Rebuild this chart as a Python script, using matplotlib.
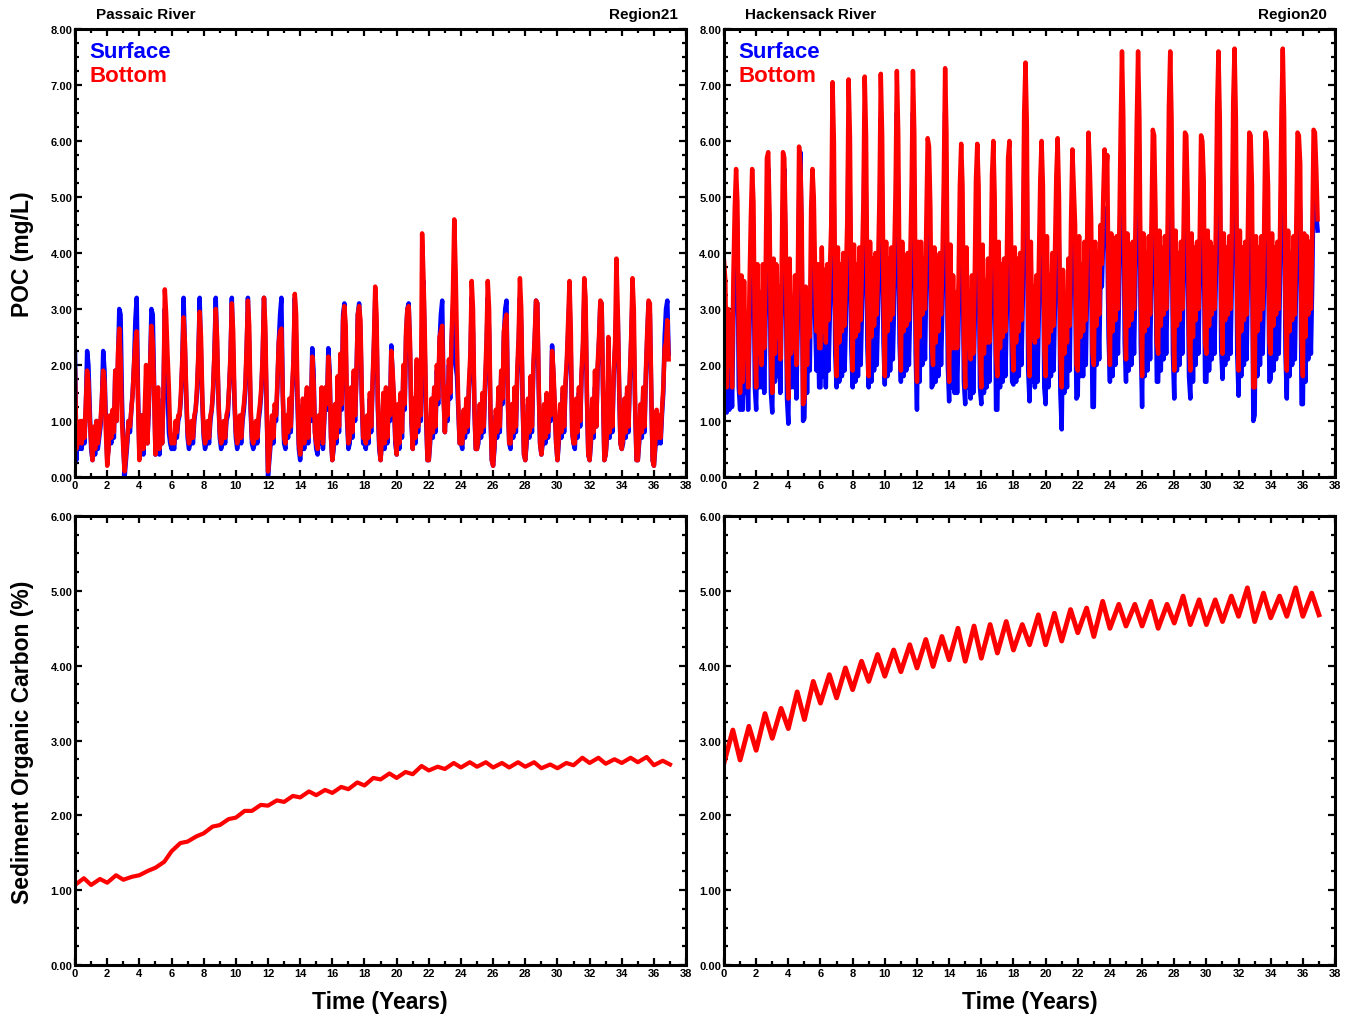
import numpy as np
import matplotlib
matplotlib.use("Agg")
import matplotlib.pyplot as plt
from matplotlib.ticker import MultipleLocator, FormatStrFormatter

plt.rcParams['font.family'] = ['Liberation Sans', 'DejaVu Sans']
plt.rcParams['font.weight'] = 'bold'

# --- monthly POC (mg/L), one row per model year (12 values) ---
passaic_surface = [
    [2.2, 0.3, 0.8, 0.5, 0.7, 0.5, 1.0, 0.6, 1.2, 2.25, 2.0, 1.2],
    [0.5, 0.3, 0.7, 0.4, 1.0, 0.5, 0.7, 0.9, 1.3, 2.25, 1.9, 1.0],
    [0.3, 0.5, 1.0, 0.6, 1.1, 0.7, 1.9, 1.0, 2.0, 3.0, 2.9, 1.4],
    [0.6, 0.0, 0.3, 0.6, 1.0, 0.8, 1.2, 1.5, 2.0, 2.8, 3.2, 1.5],
    [0.4, 0.5, 1.1, 0.4, 1.0, 1.5, 0.6, 1.2, 2.0, 3.0, 2.9, 1.6],
    [0.4, 0.5, 1.4, 0.4, 0.9, 0.6, 1.5, 3.0, 2.2, 1.6, 0.8, 0.6],
    [0.5, 0.6, 0.5, 0.9, 0.7, 1.0, 1.1, 1.4, 2.0, 3.2, 2.3, 1.4],
    [0.7, 0.5, 0.6, 0.9, 0.6, 1.0, 1.2, 1.5, 2.1, 3.2, 2.2, 1.3],
    [0.7, 0.5, 0.6, 0.9, 0.6, 1.0, 1.2, 1.5, 2.2, 3.2, 2.3, 1.4],
    [0.7, 0.5, 0.6, 0.9, 0.6, 1.0, 1.1, 1.6, 2.1, 3.2, 2.2, 1.3],
    [0.7, 0.5, 0.7, 1.0, 0.6, 1.0, 1.2, 1.5, 2.2, 3.2, 2.3, 1.2],
    [0.6, 0.5, 0.6, 0.9, 0.6, 1.0, 1.2, 1.5, 2.1, 3.2, 2.4, 1.2],
    [0.0, 0.3, 0.6, 1.0, 0.6, 1.2, 1.0, 1.6, 2.4, 2.9, 3.2, 1.5],
    [0.6, 0.5, 1.0, 0.7, 1.3, 0.8, 1.5, 2.0, 3.2, 2.4, 1.3, 0.5],
    [0.3, 0.6, 1.3, 0.5, 1.0, 1.5, 0.6, 1.4, 1.0, 2.3, 1.9, 0.8],
    [0.5, 0.4, 1.0, 0.6, 1.5, 0.5, 1.0, 1.6, 1.2, 2.3, 1.9, 0.7],
    [0.3, 0.5, 1.2, 0.6, 1.7, 0.8, 2.0, 1.2, 2.9, 3.1, 2.3, 1.0],
    [0.5, 0.6, 1.5, 0.7, 1.8, 1.0, 1.8, 2.9, 3.1, 2.6, 1.4, 0.6],
    [0.6, 0.5, 1.0, 0.6, 1.4, 0.8, 1.6, 2.3, 3.2, 2.6, 1.2, 0.5],
    [0.3, 0.6, 1.4, 0.5, 1.5, 0.6, 1.2, 1.0, 2.35, 1.8, 1.3, 0.6],
    [0.4, 1.2, 0.5, 1.4, 0.7, 1.9, 1.2, 2.5, 3.0, 3.1, 2.2, 1.0],
    [0.5, 1.3, 0.6, 2.0, 0.8, 1.5, 1.0, 2.5, 3.5, 2.2, 1.0, 0.3],
    [0.3, 0.6, 1.3, 0.7, 1.5, 0.8, 1.9, 1.3, 2.4, 2.9, 3.15, 1.5],
    [0.8, 1.5, 1.0, 2.0, 1.4, 2.4, 3.0, 3.4, 2.0, 1.8, 1.2, 0.6],
    [0.6, 0.5, 1.1, 0.7, 1.3, 0.8, 1.6, 2.0, 3.2, 2.6, 1.2, 0.5],
    [0.5, 0.6, 1.2, 0.7, 1.4, 0.8, 1.6, 2.2, 3.2, 2.6, 1.1, 0.3],
    [0.2, 0.5, 1.1, 0.7, 1.5, 0.8, 1.8, 1.3, 2.5, 3.0, 3.15, 1.3],
    [0.6, 0.5, 1.2, 0.7, 1.5, 0.8, 1.8, 2.3, 3.2, 2.7, 1.3, 0.4],
    [0.3, 0.6, 1.3, 0.7, 1.5, 0.8, 1.9, 2.4, 3.15, 3.1, 1.6, 0.6],
    [0.4, 0.6, 1.2, 0.6, 1.4, 0.7, 1.3, 1.0, 2.35, 1.8, 1.2, 0.6],
    [0.3, 0.6, 1.2, 0.7, 1.5, 0.8, 1.6, 2.0, 2.6, 3.25, 2.2, 0.8],
    [0.6, 0.5, 1.3, 0.7, 1.5, 0.9, 1.8, 2.2, 3.2, 2.9, 1.4, 0.4],
    [0.3, 0.6, 1.3, 0.7, 1.6, 0.9, 1.9, 2.4, 3.1, 3.1, 1.5, 0.3],
    [0.4, 0.7, 1.4, 0.7, 1.6, 0.8, 1.8, 2.3, 3.0, 2.9, 1.6, 0.6],
    [0.5, 0.6, 1.3, 0.7, 1.5, 0.8, 1.7, 2.4, 3.2, 2.4, 1.2, 0.3],
    [0.3, 0.6, 1.2, 0.7, 1.5, 0.8, 1.8, 2.5, 3.1, 2.9, 1.5, 0.3],
    [0.2, 0.5, 1.1, 0.6, 1.0, 0.6, 1.1, 1.5, 2.5, 3.0, 3.15, 2.2],
]

passaic_bottom = [
    [1.9, 0.5, 0.9, 0.6, 1.0, 0.6, 1.0, 0.7, 1.3, 1.9, 1.7, 1.0],
    [0.6, 0.3, 0.9, 0.5, 1.0, 0.6, 0.8, 1.0, 1.4, 1.9, 1.7, 0.8],
    [0.2, 0.5, 1.1, 0.7, 1.2, 0.8, 1.9, 1.0, 2.2, 2.65, 2.1, 1.0],
    [0.5, 0.1, 0.4, 0.7, 1.0, 0.9, 1.2, 1.5, 2.0, 2.4, 2.6, 1.3],
    [0.3, 0.6, 1.1, 0.5, 1.2, 2.0, 0.6, 1.3, 2.0, 2.7, 2.4, 1.5],
    [0.4, 0.6, 1.6, 0.5, 1.0, 0.6, 1.5, 3.35, 2.9, 2.2, 1.6, 0.8],
    [0.6, 0.7, 0.6, 1.0, 0.8, 1.1, 1.1, 1.5, 2.1, 2.85, 2.4, 1.5],
    [0.8, 0.6, 0.7, 1.0, 0.7, 1.1, 1.2, 1.6, 2.2, 2.95, 2.5, 1.4],
    [0.8, 0.6, 0.7, 1.0, 0.7, 1.1, 1.2, 1.6, 2.2, 3.0, 2.5, 1.4],
    [0.8, 0.6, 0.7, 1.0, 0.7, 1.1, 1.2, 1.6, 2.2, 3.1, 2.6, 1.4],
    [0.8, 0.6, 0.7, 1.1, 0.7, 1.1, 1.3, 1.6, 2.3, 3.15, 2.7, 1.3],
    [0.7, 0.6, 0.7, 1.0, 0.7, 1.1, 1.3, 1.6, 2.2, 3.2, 2.7, 1.3],
    [0.1, 0.4, 0.7, 1.1, 0.7, 1.3, 1.1, 1.7, 2.4, 2.6, 2.65, 1.5],
    [0.7, 0.6, 1.1, 0.8, 1.4, 0.9, 1.6, 2.1, 3.27, 2.9, 1.5, 0.6],
    [0.4, 0.7, 1.4, 0.6, 1.1, 1.6, 0.7, 1.5, 1.1, 2.15, 1.7, 0.8],
    [0.6, 0.5, 1.1, 0.7, 1.6, 0.6, 1.1, 1.6, 1.3, 2.15, 1.8, 0.7],
    [0.3, 0.6, 1.3, 0.7, 1.8, 0.9, 2.2, 1.3, 2.8, 3.05, 2.7, 1.1],
    [0.6, 0.7, 1.6, 0.8, 1.9, 1.1, 1.8, 2.9, 3.05, 2.8, 1.5, 0.7],
    [0.7, 0.6, 1.1, 0.7, 1.5, 0.9, 1.7, 2.4, 3.4, 2.9, 1.3, 0.6],
    [0.3, 0.7, 1.5, 0.6, 1.6, 0.7, 1.3, 1.1, 2.25, 1.9, 1.4, 0.7],
    [0.4, 1.3, 0.6, 1.5, 0.8, 2.0, 1.3, 2.6, 3.0, 3.05, 2.4, 1.1],
    [0.5, 1.4, 0.7, 2.1, 0.9, 1.6, 1.1, 4.35, 3.6, 2.6, 1.2, 0.3],
    [0.3, 0.7, 1.4, 0.8, 1.6, 0.9, 2.0, 1.4, 2.5, 2.6, 2.7, 1.4],
    [0.8, 1.6, 1.1, 2.1, 1.5, 2.5, 3.3, 4.6, 3.7, 2.4, 1.3, 0.6],
    [0.6, 0.6, 1.2, 0.8, 1.4, 0.9, 1.7, 2.2, 3.5, 3.0, 1.3, 0.5],
    [0.5, 0.7, 1.3, 0.8, 1.5, 0.9, 1.7, 2.4, 3.5, 3.0, 1.2, 0.3],
    [0.2, 0.6, 1.2, 0.8, 1.6, 0.9, 1.9, 1.4, 2.6, 2.8, 2.9, 1.4],
    [0.6, 0.6, 1.3, 0.8, 1.6, 0.9, 1.9, 2.5, 3.55, 3.0, 1.4, 0.4],
    [0.3, 0.7, 1.4, 0.8, 1.8, 0.9, 2.0, 2.5, 3.15, 3.1, 1.7, 0.6],
    [0.4, 0.7, 1.3, 0.7, 1.5, 0.8, 1.4, 1.1, 2.25, 1.9, 1.3, 0.6],
    [0.3, 0.7, 1.3, 0.8, 1.6, 0.9, 1.7, 2.1, 2.8, 3.5, 2.6, 0.8],
    [0.6, 0.6, 1.4, 0.8, 1.6, 1.0, 1.9, 2.4, 3.55, 3.2, 1.5, 0.4],
    [0.3, 0.7, 1.4, 0.8, 1.9, 0.9, 2.0, 2.5, 3.15, 3.1, 1.6, 0.3],
    [0.4, 0.8, 2.5, 0.8, 1.7, 0.9, 1.9, 2.4, 3.9, 3.0, 1.7, 0.6],
    [0.5, 0.7, 1.4, 0.8, 1.6, 0.9, 1.8, 2.5, 3.55, 3.0, 1.3, 0.3],
    [0.3, 0.7, 1.3, 0.8, 1.6, 0.9, 1.9, 2.6, 3.15, 3.1, 1.6, 0.3],
    [0.2, 0.6, 1.2, 0.7, 1.1, 0.7, 1.2, 1.6, 2.3, 2.4, 2.8, 2.1],
]

hack_surface = [
    [3.2, 2.6, 1.15, 2.5, 1.2, 2.4, 1.25, 2.8, 3.9, 5.1, 4.4, 1.6],
    [1.2, 2.7, 1.2, 2.6, 1.5, 2.2, 1.2, 2.6, 3.8, 5.0, 4.3, 1.6],
    [1.2, 3.0, 1.6, 2.6, 1.6, 2.9, 1.5, 2.8, 4.4, 5.5, 4.0, 1.5],
    [1.15, 3.0, 1.7, 2.9, 1.8, 2.7, 1.5, 2.9, 4.8, 5.5, 3.8, 1.4],
    [0.95, 3.0, 1.6, 2.4, 1.6, 2.8, 1.4, 2.7, 4.9, 5.8, 4.1, 1.0],
    [1.05, 2.6, 1.5, 2.6, 1.9, 3.6, 4.5, 4.1, 2.8, 1.9, 2.9, 1.6],
    [1.6, 3.2, 1.8, 2.9, 1.6, 3.0, 1.9, 2.9, 3.6, 6.2, 4.8, 2.2],
    [1.6, 3.2, 1.7, 3.0, 1.8, 3.1, 1.9, 2.8, 3.8, 6.3, 4.9, 2.3],
    [1.6, 3.3, 1.7, 3.0, 1.8, 3.2, 2.0, 3.0, 3.9, 6.4, 4.9, 2.3],
    [1.6, 3.3, 1.7, 3.0, 1.9, 3.1, 2.0, 3.0, 4.0, 6.4, 5.0, 2.4],
    [1.65, 3.3, 1.8, 3.1, 1.9, 3.2, 2.1, 3.1, 4.1, 6.5, 5.0, 2.4],
    [1.7, 3.3, 1.8, 3.1, 1.9, 3.1, 2.0, 3.1, 4.2, 6.5, 5.0, 2.2],
    [1.2, 3.3, 1.7, 3.3, 2.0, 3.0, 2.1, 3.6, 5.1, 4.9, 3.8, 1.6],
    [1.65, 3.2, 1.7, 3.0, 1.8, 3.1, 2.0, 3.0, 4.3, 6.5, 5.1, 2.0],
    [1.35, 3.2, 1.6, 2.7, 1.5, 2.5, 1.5, 2.7, 4.2, 5.1, 4.3, 1.7],
    [1.3, 3.2, 1.6, 2.5, 1.4, 2.7, 1.5, 2.6, 4.3, 5.1, 4.3, 1.6],
    [1.3, 3.2, 1.5, 2.7, 1.6, 3.0, 1.7, 2.8, 4.4, 5.2, 4.1, 1.2],
    [1.2, 3.3, 1.6, 2.9, 1.7, 3.0, 1.8, 2.9, 4.7, 5.2, 3.8, 1.7],
    [1.65, 3.2, 1.7, 3.0, 1.8, 3.1, 2.0, 3.2, 5.5, 6.6, 5.3, 1.9],
    [1.35, 3.3, 1.7, 2.6, 1.6, 2.7, 1.7, 3.0, 4.3, 5.2, 4.3, 1.6],
    [1.3, 3.4, 1.6, 2.7, 1.8, 3.1, 1.9, 3.1, 4.4, 5.3, 4.1, 1.5],
    [0.85, 2.8, 1.5, 2.4, 1.6, 3.0, 1.9, 3.7, 4.9, 4.4, 3.6, 1.4],
    [1.45, 3.4, 1.8, 2.9, 1.8, 3.3, 2.0, 3.4, 5.2, 4.7, 3.7, 1.25],
    [1.25, 3.3, 2.0, 3.1, 2.1, 3.6, 3.4, 4.3, 4.8, 4.4, 4.3, 2.5],
    [1.7, 3.5, 1.8, 3.1, 2.0, 3.4, 2.2, 3.5, 5.2, 6.8, 5.4, 2.4],
    [1.7, 3.5, 1.9, 3.2, 2.0, 3.3, 2.2, 3.5, 5.3, 6.8, 5.4, 2.4],
    [1.25, 3.5, 1.8, 3.1, 1.9, 3.4, 2.1, 3.7, 5.2, 5.3, 3.9, 1.7],
    [1.7, 3.5, 1.9, 3.2, 2.1, 3.4, 2.2, 3.5, 5.6, 6.8, 5.4, 2.2],
    [1.4, 3.5, 1.9, 3.1, 2.0, 3.3, 2.2, 3.6, 5.2, 5.3, 4.1, 1.8],
    [1.4, 3.5, 1.7, 3.2, 2.0, 3.3, 2.2, 3.4, 5.1, 5.2, 4.4, 1.7],
    [1.7, 3.5, 1.9, 3.3, 2.1, 3.2, 2.2, 3.5, 5.6, 6.8, 5.4, 2.3],
    [1.75, 3.5, 2.0, 3.2, 2.1, 3.4, 2.2, 3.5, 5.7, 6.8, 5.4, 2.2],
    [1.45, 3.5, 1.8, 3.2, 2.0, 3.3, 2.1, 3.6, 5.2, 5.3, 4.3, 1.0],
    [1.1, 3.4, 1.8, 3.2, 2.0, 3.4, 2.2, 3.4, 5.2, 5.2, 4.3, 1.7],
    [1.75, 3.5, 1.9, 3.2, 2.1, 3.3, 2.2, 3.6, 5.5, 6.8, 5.4, 2.2],
    [1.4, 3.5, 1.8, 3.1, 2.0, 3.4, 2.1, 3.5, 5.2, 5.3, 4.7, 1.3],
    [1.3, 3.5, 1.7, 3.4, 2.1, 3.3, 2.2, 3.5, 5.3, 5.4, 4.7, 4.4],
]

hack_bottom = [
    [3.85, 3.5, 1.6, 3.0, 2.0, 2.9, 1.6, 3.6, 4.8, 5.5, 4.9, 2.5],
    [1.5, 3.6, 1.7, 3.5, 2.2, 2.8, 1.6, 3.4, 4.6, 5.5, 4.9, 2.4],
    [1.6, 3.8, 2.2, 3.3, 2.0, 3.8, 2.3, 3.5, 5.7, 5.8, 4.7, 2.2],
    [1.5, 3.9, 2.2, 3.8, 2.5, 3.4, 2.1, 3.7, 5.8, 5.7, 4.4, 2.0],
    [1.4, 3.9, 2.2, 3.0, 2.3, 3.6, 2.0, 3.4, 5.9, 5.6, 4.6, 1.3],
    [1.4, 3.4, 2.0, 3.3, 2.5, 4.8, 5.5, 5.0, 3.6, 2.6, 3.8, 2.3],
    [2.3, 4.1, 2.6, 3.7, 2.4, 3.8, 2.8, 3.7, 4.5, 7.05, 6.0, 3.0],
    [1.8, 4.1, 2.4, 3.8, 2.6, 4.0, 2.7, 3.6, 4.6, 7.1, 6.05, 3.1],
    [1.9, 4.15, 2.5, 3.8, 2.6, 4.1, 2.8, 3.8, 4.9, 7.15, 6.1, 3.2],
    [1.8, 4.2, 2.5, 3.9, 2.7, 4.0, 2.9, 3.8, 5.0, 7.2, 6.1, 3.3],
    [1.8, 4.2, 2.6, 3.9, 2.8, 4.1, 2.9, 3.9, 5.1, 7.25, 6.15, 3.4],
    [1.9, 4.2, 2.6, 3.9, 2.7, 4.0, 2.8, 3.9, 5.2, 7.25, 6.15, 3.0],
    [1.7, 4.2, 2.5, 4.2, 2.9, 3.9, 3.0, 4.6, 6.05, 5.9, 4.8, 2.4],
    [2.0, 4.1, 2.4, 3.9, 2.6, 4.0, 2.9, 3.9, 5.3, 7.3, 6.15, 2.8],
    [1.7, 4.15, 2.3, 3.6, 2.3, 3.3, 2.3, 3.5, 5.2, 5.95, 5.2, 2.4],
    [1.6, 4.1, 2.3, 3.3, 2.1, 3.6, 2.2, 3.4, 5.3, 5.95, 5.2, 2.3],
    [1.6, 4.15, 2.2, 3.5, 2.4, 3.9, 2.4, 3.6, 5.4, 6.0, 5.0, 2.2],
    [1.8, 4.2, 2.3, 3.8, 2.5, 3.9, 2.6, 3.8, 5.7, 6.0, 4.7, 2.5],
    [1.9, 4.1, 2.4, 3.9, 2.6, 4.0, 2.8, 4.1, 6.5, 7.4, 6.3, 2.6],
    [1.8, 4.2, 2.5, 3.4, 2.4, 3.6, 2.5, 3.9, 5.3, 6.0, 5.2, 2.3],
    [1.8, 4.3, 2.4, 3.6, 2.6, 4.0, 2.7, 4.0, 5.4, 6.05, 5.0, 2.2],
    [1.6, 3.7, 2.2, 3.2, 2.4, 3.9, 2.7, 4.6, 5.85, 5.2, 4.5, 2.0],
    [1.9, 4.3, 2.5, 3.8, 2.6, 4.2, 2.8, 4.3, 6.15, 5.5, 4.6, 2.2],
    [2.0, 4.2, 2.7, 4.0, 2.9, 4.5, 3.8, 5.0, 5.85, 5.3, 5.75, 3.2],
    [2.0, 4.35, 2.6, 4.0, 2.8, 4.3, 3.0, 4.4, 6.2, 7.6, 6.4, 3.3],
    [2.1, 4.35, 2.7, 4.1, 2.8, 4.2, 3.0, 4.4, 6.3, 7.6, 6.4, 3.3],
    [1.8, 4.35, 2.6, 4.0, 2.7, 4.3, 2.9, 4.6, 6.2, 6.1, 4.8, 2.4],
    [2.2, 4.4, 2.7, 4.1, 2.9, 4.3, 3.0, 4.4, 6.6, 7.6, 6.4, 3.0],
    [1.9, 4.4, 2.7, 4.0, 2.8, 4.2, 3.0, 4.5, 6.15, 6.1, 5.0, 2.5],
    [1.9, 4.35, 2.5, 4.1, 2.8, 4.2, 3.0, 4.3, 6.1, 6.0, 5.3, 2.4],
    [2.2, 4.4, 2.7, 4.2, 2.9, 4.1, 3.0, 4.4, 6.6, 7.6, 6.4, 3.1],
    [2.2, 4.35, 2.8, 4.1, 2.9, 4.3, 3.0, 4.4, 6.7, 7.65, 6.4, 3.0],
    [1.9, 4.4, 2.6, 4.1, 2.8, 4.2, 2.9, 4.5, 6.15, 6.1, 5.2, 1.6],
    [1.6, 4.3, 2.6, 4.1, 2.8, 4.3, 3.0, 4.3, 6.15, 6.0, 5.2, 2.4],
    [2.2, 4.35, 2.7, 4.1, 2.9, 4.2, 3.0, 4.5, 6.5, 7.65, 6.4, 3.0],
    [1.9, 4.4, 2.6, 4.0, 2.8, 4.3, 2.9, 4.4, 6.15, 6.1, 5.6, 2.5],
    [1.8, 4.35, 2.5, 4.3, 2.9, 4.2, 3.0, 4.4, 6.2, 6.15, 5.5, 4.6],
]

# --- sediment organic carbon (%): yearly low (start of year) and high (mid-year) ---
passaic_sed_low = [1.07, 1.07, 1.10, 1.14, 1.20, 1.30, 1.52, 1.65, 1.76, 1.87,
                   1.97, 2.06, 2.13, 2.18, 2.24, 2.27, 2.30, 2.35, 2.40, 2.48,
                   2.50, 2.55, 2.60, 2.62, 2.64, 2.65, 2.64, 2.64, 2.65, 2.63,
                   2.63, 2.67, 2.70, 2.69, 2.70, 2.71, 2.67]
passaic_sed_high = [1.16, 1.15, 1.20, 1.18, 1.26, 1.38, 1.63, 1.72, 1.85, 1.95,
                    2.06, 2.14, 2.20, 2.26, 2.32, 2.34, 2.38, 2.44, 2.50, 2.56,
                    2.58, 2.66, 2.65, 2.70, 2.71, 2.71, 2.70, 2.71, 2.71, 2.68,
                    2.70, 2.77, 2.77, 2.75, 2.77, 2.78, 2.73]
passaic_sed_end = 2.68

hack_sed_low = [2.70, 2.74, 2.87, 3.03, 3.16, 3.28, 3.50, 3.57, 3.68, 3.79,
                3.86, 3.92, 3.97, 3.99, 4.08, 4.06, 4.10, 4.17, 4.21, 4.28,
                4.28, 4.33, 4.44, 4.39, 4.50, 4.53, 4.53, 4.50, 4.57, 4.55,
                4.55, 4.59, 4.66, 4.59, 4.64, 4.66, 4.66]
hack_sed_high = [3.14, 3.19, 3.36, 3.43, 3.65, 3.79, 3.88, 3.97, 4.06, 4.15,
                 4.21, 4.28, 4.35, 4.39, 4.50, 4.53, 4.55, 4.59, 4.55, 4.68,
                 4.70, 4.75, 4.77, 4.86, 4.82, 4.82, 4.86, 4.82, 4.93, 4.88,
                 4.88, 4.93, 5.04, 4.97, 4.93, 5.04, 4.97]
hack_sed_end = 4.68

BLUE = '#0000ff'
RED = '#ff0000'


def monthly(rows):
    vals = np.concatenate([np.asarray(r, dtype=float) for r in rows])
    t = np.arange(len(vals)) / 12.0
    return t, vals


def yearly_zigzag(low, high, end):
    t, v = [], []
    for i, (lo, hi) in enumerate(zip(low, high)):
        t += [i, i + 0.55]
        v += [lo, hi]
    t.append(len(low))
    v.append(end)
    return np.array(t), np.array(v)


def style_axes(ax, ymax):
    ax.set_xlim(0, 38)
    ax.set_ylim(0, ymax)
    ax.xaxis.set_major_locator(MultipleLocator(2))
    ax.xaxis.set_minor_locator(MultipleLocator(1))
    ax.yaxis.set_major_locator(MultipleLocator(1))
    ax.yaxis.set_minor_locator(MultipleLocator(0.25))
    ax.yaxis.set_major_formatter(FormatStrFormatter('%.2f'))
    ax.xaxis.set_major_formatter(FormatStrFormatter('%d'))
    ax.tick_params(which='both', direction='in', top=True, right=True,
                   width=1.6, labelsize=8, pad=2,
                   labelfontfamily=['Liberation Sans Narrow', 'Liberation Sans'])
    ax.tick_params(which='major', length=5)
    ax.tick_params(which='minor', length=3)
    for s in ax.spines.values():
        s.set_linewidth(2.2)


fig = plt.figure(figsize=(13.45, 10.2), dpi=100)
W = 0.4543
ax_pt = fig.add_axes([0.0558, 0.5314, W, 0.4392])
ax_ht = fig.add_axes([0.5383, 0.5314, W, 0.4392])
ax_pb = fig.add_axes([0.0558, 0.0529, W, 0.4402])
ax_hb = fig.add_axes([0.5383, 0.0529, W, 0.4402])

# POC panels
for ax, surf, bot, name, region in [
        (ax_pt, passaic_surface, passaic_bottom, 'Passaic River', 'Region21'),
        (ax_ht, hack_surface, hack_bottom, 'Hackensack River', 'Region20')]:
    t, v = monthly(surf)
    ax.plot(t, v, color=BLUE, lw=3.2)
    t, v = monthly(bot)
    ax.plot(t, v, color=RED, lw=3.2)
    style_axes(ax, 8)
    ax.text(0.023, 0.950, 'Surface', color=BLUE, fontsize=16,
            transform=ax.transAxes, va='center')
    ax.text(0.023, 0.897, 'Bottom', color=RED, fontsize=16,
            transform=ax.transAxes, va='center')
    ax.text(0.034, 1.034, name, fontsize=11, transform=ax.transAxes, va='center')
    ax.text(0.987, 1.034, region, fontsize=11, transform=ax.transAxes,
            va='center', ha='right')

# sediment panels
t, v = yearly_zigzag(passaic_sed_low, passaic_sed_high, passaic_sed_end)
ax_pb.plot(t, v, color=RED, lw=3)
style_axes(ax_pb, 6)
t, v = yearly_zigzag(hack_sed_low, hack_sed_high, hack_sed_end)
ax_hb.plot(t, v, color=RED, lw=3.5)
style_axes(ax_hb, 6)

fig.text(0.0164, 0.751, 'POC (mg/L)', rotation=90, fontsize=16.5,
         ha='center', va='center')
fig.text(0.0164, 0.2725, 'Sediment Organic Carbon (%)', rotation=90,
         fontsize=16.5, ha='center', va='center')
fig.text(0.2825, 0.0167, 'Time (Years)', fontsize=16.5, ha='center', va='center')
fig.text(0.7658, 0.0167, 'Time (Years)', fontsize=16.5, ha='center', va='center')

fig.savefig('out.png', dpi=100)
